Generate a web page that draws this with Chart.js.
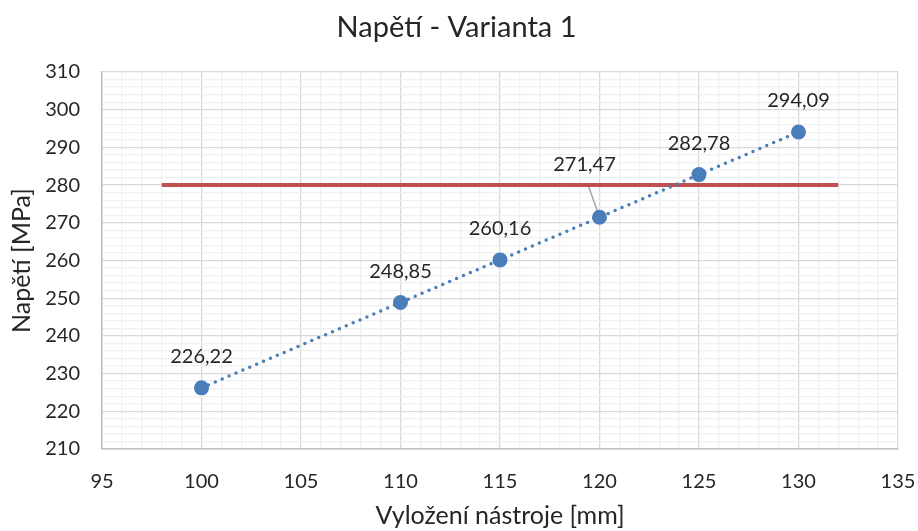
<!DOCTYPE html>
<html>
<head>
<meta charset="utf-8">
<script src="https://cdn.jsdelivr.net/npm/chart.js@4/dist/chart.umd.min.js"></script>
<style>
  html, body { margin: 0; padding: 0; background: #ffffff; }
  #wrap { width: 918px; height: 531px; }
</style>
</head>
<body>
<div id="wrap"><canvas id="c" width="918" height="531"></canvas></div>
<script>
// Tool overhang (mm) and resulting stress (MPa)
const overhang = [100, 110, 115, 120, 125, 130];
const stress = [226.22, 248.85, 260.16, 271.47, 282.78, 294.09];

// Allowable stress limit drawn as a horizontal line
const limitX = [98, 132];
const limitY = [280, 280];

// Axis ranges
const xRange = [95, 135];
const yRange = [210, 310];

const FONT = 'Lato, "Open Sans", sans-serif';
const TEXT = '#262626';
const BLUE = '#4a7ebb';
const RED = '#c0504d';

const fmt = v => v.toFixed(2).replace('.', ',');

// Value labels above each point; the 120 mm label is pulled aside with a leader line
const labelOffsets = [[0, -31], [0, -31], [0, -31], [-15, -53], [0, -31], [0, -31]];

const valueLabels = {
  id: 'valueLabels',
  beforeDatasetsDraw(chart) {
    const ctx = chart.ctx;
    const pts = chart.getDatasetMeta(0).data;
    pts.forEach((p, i) => {
      const [dx, dy] = labelOffsets[i];
      if (Math.abs(dx) > 0) {
        ctx.save();
        ctx.strokeStyle = '#a6a6a6';
        ctx.lineWidth = 1.5;
        ctx.beginPath();
        ctx.moveTo(p.x + dx + 3, p.y + dy + 19);
        ctx.lineTo(p.x, p.y);
        ctx.stroke();
        ctx.restore();
      }
    });
  },
  afterDatasetsDraw(chart) {
    const ctx = chart.ctx;
    const pts = chart.getDatasetMeta(0).data;
    ctx.save();
    ctx.font = '20px ' + FONT;
    ctx.fillStyle = TEXT;
    ctx.textAlign = 'center';
    ctx.textBaseline = 'middle';
    pts.forEach((p, i) => {
      const [dx, dy] = labelOffsets[i];
      ctx.fillText(fmt(stress[i]), p.x + dx, p.y + dy);
    });
    ctx.restore();
  }
};

const seriesPoints = overhang.map((x, i) => ({ x, y: stress[i] }));
const limitPoints = limitX.map((x, i) => ({ x, y: limitY[i] }));

new Chart(document.getElementById('c'), {
  type: 'scatter',
  data: {
    datasets: [
      {
        label: 'Napětí',
        data: seriesPoints,
        showLine: true,
        borderColor: BLUE,
        borderWidth: 3.5,
        borderDash: [0, 7.5],
        borderCapStyle: 'round',
        backgroundColor: BLUE,
        pointBackgroundColor: BLUE,
        pointBorderWidth: 0,
        pointRadius: 7.5,
        pointHoverRadius: 7.5,
        order: 0
      },
      {
        label: 'Limit',
        data: limitPoints,
        showLine: true,
        borderColor: RED,
        borderWidth: 4,
        borderCapStyle: 'butt',
        pointRadius: 0,
        order: 1
      }
    ]
  },
  options: {
    responsive: false,
    animation: false,
    events: [],
    layout: { padding: { left: 15, right: 20, top: 0, bottom: 0 } },
    plugins: {
      legend: { display: false },
      tooltip: { enabled: false },
      title: {
        display: true,
        text: 'Napětí - Varianta 1',
        color: TEXT,
        font: { family: FONT, size: 29, weight: 'normal' },
        padding: { top: 10, bottom: 27.2 }
      }
    },
    scales: {
      x: {
        type: 'linear',
        min: xRange[0],
        max: xRange[1],
        afterFit: s => { s.height = 82; s.paddingLeft = 0; s.paddingRight = 0; },
        ticks: {
          stepSize: 1,
          autoSkip: false,
          maxRotation: 0,
          padding: 21,
          color: TEXT,
          font: { family: FONT, size: 20 },
          callback: v => (v % 5 === 0 ? String(v) : '')
        },
        grid: {
          drawTicks: false,
          color: c => (c.tick && c.tick.value % 5 === 0 ? '#d9d9d9' : '#f0f0f0'),
          lineWidth: 1.3
        },
        border: { color: '#bfbfbf', width: 1.5 },
        title: {
          display: true,
          text: 'Vyložení nástroje [mm]',
          color: TEXT,
          font: { family: FONT, size: 25 },
          padding: { top: 0, bottom: 0 }
        }
      },
      y: {
        type: 'linear',
        min: yRange[0],
        max: yRange[1],
        afterFit: s => { s.width = 87; },
        ticks: {
          stepSize: 2,
          autoSkip: false,
          padding: 22,
          color: TEXT,
          font: { family: FONT, size: 20 },
          callback: v => (v % 10 === 0 ? String(v) : '')
        },
        grid: {
          drawTicks: false,
          color: c => (c.tick && c.tick.value % 10 === 0 ? '#d9d9d9' : '#f0f0f0'),
          lineWidth: 1.3
        },
        border: { color: '#bfbfbf', width: 1.5 },
        title: {
          display: true,
          text: 'Napětí [MPa]',
          color: TEXT,
          font: { family: FONT, size: 25 },
          padding: { top: -8, bottom: 0 }
        }
      }
    }
  },
  plugins: [valueLabels]
});
</script>
</body>
</html>
